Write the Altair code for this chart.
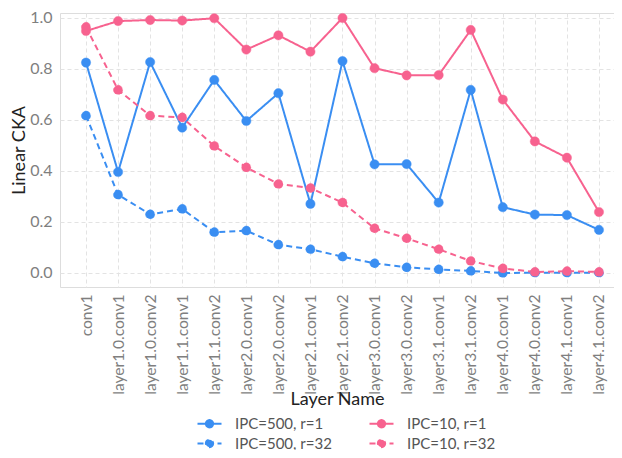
import altair as alt
import pandas as pd

layers = ["conv1", "layer1.0.conv1", "layer1.0.conv2", "layer1.1.conv1", "layer1.1.conv2",
          "layer2.0.conv1", "layer2.0.conv2", "layer2.1.conv1", "layer2.1.conv2",
          "layer3.0.conv1", "layer3.0.conv2", "layer3.1.conv1", "layer3.1.conv2",
          "layer4.0.conv1", "layer4.0.conv2", "layer4.1.conv1", "layer4.1.conv2"]

ipc500_r1 = [0.825, 0.396, 0.827, 0.570, 0.757, 0.596, 0.705, 0.271, 0.831,
             0.426, 0.427, 0.276, 0.718, 0.258, 0.229, 0.227, 0.169]
ipc500_r32 = [0.617, 0.307, 0.230, 0.251, 0.160, 0.166, 0.111, 0.093, 0.064,
              0.038, 0.022, 0.014, 0.008, 0.0, 0.001, 0.001, 0.001]
ipc10_r1 = [0.949, 0.988, 0.992, 0.990, 0.999, 0.876, 0.932, 0.868, 1.000,
            0.803, 0.775, 0.776, 0.953, 0.680, 0.516, 0.452, 0.239]
ipc10_r32 = [0.965, 0.718, 0.617, 0.610, 0.498, 0.414, 0.349, 0.333, 0.276,
             0.175, 0.136, 0.093, 0.047, 0.018, 0.004, 0.007, 0.004]

series_names = ["IPC=500, r=1", "IPC=500, r=32", "IPC=10, r=1", "IPC=10, r=32"]
series_values = [ipc500_r1, ipc500_r32, ipc10_r1, ipc10_r32]
colors = ["#3a8ef2", "#3a8ef2", "#f7628f", "#f7628f"]
dashes = [[1, 0], [6, 4], [1, 0], [6, 4]]

rows = []
for name, vals in zip(series_names, series_values):
    for layer, v in zip(layers, vals):
        rows.append({"layer": layer, "cka": v, "series": name})
df = pd.DataFrame(rows)

FONT = "Lato"

x_enc = alt.X("layer:N", sort=layers, title="Layer Name",
              scale=alt.Scale(type="point", padding=0.64, align=0.634),
              axis=alt.Axis(labelAngle=-90, labelFontSize=15.6, labelColor="#7f7f7f",
                            labelPadding=7, ticks=False, domain=False,
                            grid=True, gridDash=[4, 3], gridColor="#e3e3e3",
                            titleFontSize=18, titleFontWeight="normal", titleColor="#222222",
                            titlePadding=-4, labelFont=FONT, titleFont=FONT))
y_enc = alt.Y("cka:Q", title="Linear CKA",
              scale=alt.Scale(domain=[-0.055, 1.0196], nice=False, zero=False),
              axis=alt.Axis(values=[0, 0.2, 0.4, 0.6, 0.8, 1.0], format=".1f",
                            labelFontSize=16, labelColor="#7f7f7f", labelPadding=8,
                            ticks=False, domain=False, grid=True, gridDash=[4, 3],
                            gridColor="#e3e3e3", titleFontSize=18, titleFontWeight="normal",
                            titleColor="#222222", titlePadding=1, labelFont=FONT,
                            titleFont=FONT))

sym_path = "M-2.4,0H2.4M0.73,0A0.73,0.73,0,1,1,-0.73,0A0.73,0.73,0,1,1,0.73,0Z"

series_scale = alt.Scale(domain=series_names, range=colors)
dash_scale = alt.Scale(domain=series_names, range=dashes)

legend = alt.Legend(title=None, orient="none", legendX=142, legendY=403,
                    columns=2, columnPadding=33, rowPadding=3,
                    symbolType=sym_path, symbolSize=100,
                    symbolStrokeWidth=2, labelFontSize=15,
                    labelColor="#555555", labelFont=FONT, labelOffset=18)

lines = alt.Chart(df).mark_line(strokeWidth=2).encode(
    x=x_enc, y=y_enc,
    stroke=alt.Stroke("series:N", sort=series_names, scale=series_scale, legend=legend),
    strokeDash=alt.StrokeDash("series:N", sort=series_names, scale=dash_scale, legend=legend),
    detail="series:N")

points = alt.Chart(df).mark_point(shape="circle", size=85, opacity=1, strokeWidth=0.5).encode(
    x=x_enc, y=y_enc,
    fill=alt.Fill("series:N", sort=series_names, scale=series_scale, legend=legend),
    stroke=alt.Stroke("series:N", sort=series_names, scale=series_scale, legend=legend),
    strokeDash=alt.StrokeDash("series:N", sort=series_names, scale=dash_scale, legend=legend))

chart = alt.layer(lines, points).properties(
    width=554, height=274,
    autosize=alt.AutoSizeParams(type="none"),
    padding={"left": 52, "top": 5, "right": 0, "bottom": 163},
).configure_view(stroke=None).configure(font=FONT)

chart.save("out.html", embed_options={"renderer": "svg", "actions": False})
